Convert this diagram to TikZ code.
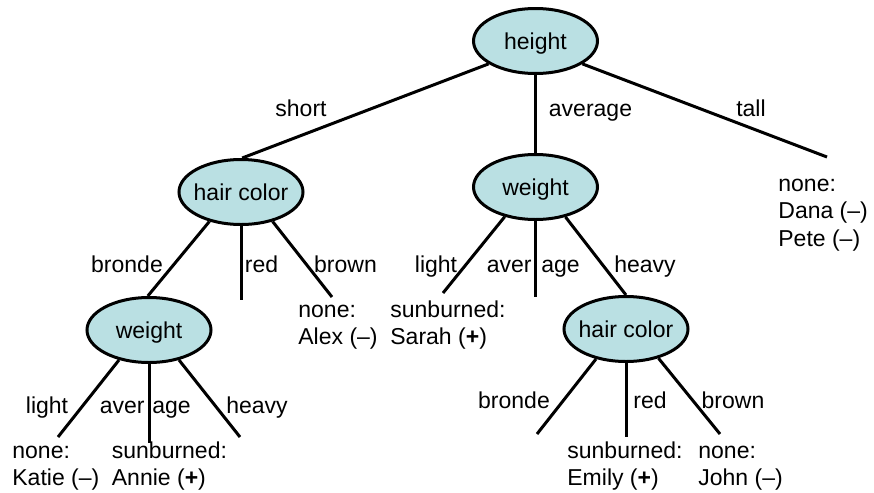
\documentclass[tikz,border=0pt]{standalone}
\usepackage{fontspec}
\setmainfont{Liberation Sans}
\usetikzlibrary{shapes.geometric}
\definecolor{nodefill}{RGB}{186,224,227}
\begin{document}
\begin{tikzpicture}[x=0.5pt,y=-0.5pt,
  every node/.style={font=\fontsize{11.5}{13.75}\selectfont, inner sep=0pt},
  attr/.style={ellipse, draw=black, line width=1.5pt, fill=nodefill,
    minimum width=62pt, minimum height=32.5pt, text height=10.4pt, text depth=2.4pt},
  branch/.style={line width=1.5pt},
  lab/.style={anchor=base},
  labr/.style={anchor=base east},
  labl/.style={anchor=base west},
  leaf/.style={anchor=base west}]
\useasboundingbox (0,0) rectangle (874,493);

% attribute nodes
\node[attr] (h)   at (535.5,41)  {\makebox[0pt]{height}};
\node[attr] (hc)  at (241,192)   {\makebox[0pt]{hair color}};
\node[attr] (w1)  at (535.5,187) {\makebox[0pt]{weight}};
\node[attr] (w2)  at (149,330)   {\makebox[0pt]{weight}};
\node[attr] (hc2) at (626,329)   {\makebox[0pt]{hair color}};

% free ends
\coordinate (tallE)   at (827,157);
\coordinate (redE)    at (241,300);
\coordinate (brownE)  at (332,297);
\coordinate (w1lightE) at (443,293);
\coordinate (w1avgE)  at (535.5,297);
\coordinate (w2lightE) at (58,437);
\coordinate (w2avgE)  at (149,443);
\coordinate (w2heavyE) at (240,437);
\coordinate (hc2bE)   at (537,434);
\coordinate (hc2rE)   at (626,437);
\coordinate (hc2brE)  at (720,434);

% branches
\draw[branch] (h.206) -- (hc.88);
\draw[branch] (h.south) -- (w1.north);
\draw[branch] (h.334) -- (tallE);
\draw[branch] (hc.223) -- (w2.92);
\draw[branch] (hc.south) -- (redE);
\draw[branch] (hc.317) -- (brownE);
\draw[branch] (w1.224) -- (w1lightE);
\draw[branch] (w1.south) -- (w1avgE);
\draw[branch] (w1.315) -- (hc2.north);
\draw[branch] (w2.225) -- (w2lightE);
\draw[branch] (w2.south) -- (w2avgE);
\draw[branch] (w2.315) -- (w2heavyE);
\draw[branch] (hc2.225) -- (hc2bE);
\draw[branch] (hc2.south) -- (hc2rE);
\draw[branch] (hc2.318) -- (hc2brE);

% branch labels
\node[lab] (lshort) at (301,116) {short};
\node[lab] (lavg) at (590.5,116) {average};
\node[lab] (ltall) at (751,116) {tall};
\node[lab] (lbr1) at (127,272) {bronde};
\node[lab] (lred1) at (261.5,272) {red};
\node[lab] (lbrn1) at (345.5,272) {brown};
\node[lab] (llt1) at (436,272) {light};
\node[labr] (lav1) at (532,272) {aver};
\node[labl] (lag1) at (541,272) {age};
\node[lab] (lhv1) at (645,272) {heavy};
\node[lab] (llt2) at (47,413) {light};
\node[labr] (lav2) at (145,413) {aver};
\node[labl] (lag2) at (152,413) {age};
\node[lab] (lhv2) at (257,413) {heavy};
\node[lab] (lbr2) at (514,408) {bronde};
\node[lab] (lred2) at (650,408) {red};
\node[lab] (lbrn2) at (733,408) {brown};

% leaves
\node[leaf] (dana) at (778,191) {\begin{tabular}[t]{@{}l@{}}none:\\Dana (\textendash)\\Pete (\textendash)\end{tabular}};
\node[leaf] (alex) at (298,317) {\begin{tabular}[t]{@{}l@{}}none:\\Alex (\textendash)\end{tabular}};
\node[leaf] (sarah) at (390,317) {\begin{tabular}[t]{@{}l@{}}sunburned:\\Sarah (\textbf{+})\end{tabular}};
\node[leaf] (katie) at (12,458) {\begin{tabular}[t]{@{}l@{}}none:\\Katie (\textendash)\end{tabular}};
\node[leaf] (annie) at (111.5,458) {\begin{tabular}[t]{@{}l@{}}sunburned:\\Annie (\textbf{+})\end{tabular}};
\node[leaf] (emily) at (567,458) {\begin{tabular}[t]{@{}l@{}}sunburned:\\Emily (\textbf{+})\end{tabular}};
\node[leaf] (john) at (698,458) {\begin{tabular}[t]{@{}l@{}}none:\\John (\textendash)\end{tabular}};
\end{tikzpicture}
\end{document}
